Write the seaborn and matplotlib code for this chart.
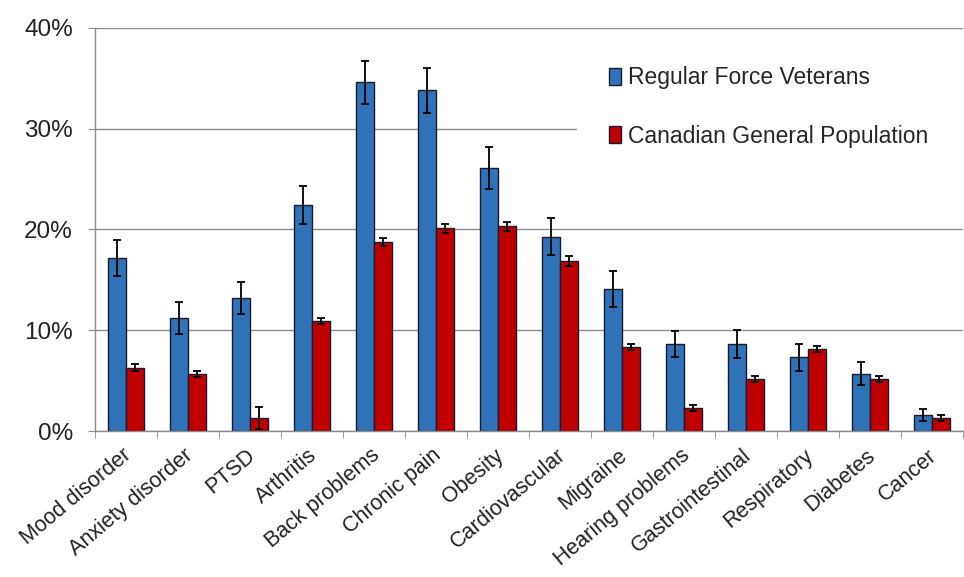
import pandas as pd
import seaborn as sns
import matplotlib.pyplot as plt
from matplotlib.ticker import FuncFormatter, FixedLocator
from matplotlib.transforms import ScaledTranslation

# Data (percent)
conditions = ['Mood disorder', 'Anxiety disorder', 'PTSD', 'Arthritis', 'Back problems',
              'Chronic pain', 'Obesity', 'Cardiovascular', 'Migraine', 'Hearing problems',
              'Gastrointestinal', 'Respiratory', 'Diabetes', 'Cancer']
veterans = [17.2, 11.2, 13.2, 22.4, 34.6, 33.8, 26.1, 19.3, 14.1, 8.6, 8.6, 7.3, 5.7, 1.6]
veterans_err = [1.8, 1.6, 1.6, 1.9, 2.1, 2.2, 2.1, 1.8, 1.8, 1.3, 1.4, 1.3, 1.1, 0.6]
general = [6.3, 5.7, 1.3, 10.9, 18.8, 20.1, 20.3, 16.9, 8.3, 2.3, 5.2, 8.1, 5.2, 1.3]
general_err = [0.35, 0.3, 1.1, 0.3, 0.4, 0.4, 0.4, 0.5, 0.3, 0.3, 0.3, 0.3, 0.3, 0.3]
series = ['Regular Force Veterans', 'Canadian General Population']

df = pd.DataFrame({
    'condition': conditions * 2,
    'group': [series[0]] * len(conditions) + [series[1]] * len(conditions),
    'value': veterans + general,
})

sns.set_style('white')
plt.rcParams['font.family'] = ['Liberation Sans', 'DejaVu Sans']

fig = plt.figure(figsize=(9.64, 5.77), dpi=100)
ax = fig.add_axes([95 / 964, 1 - 431 / 577, 868 / 964, 403 / 577])

palette = {series[0]: '#2F72B8', series[1]: '#C00000'}
sns.barplot(data=df, x='condition', y='value', hue='group', palette=palette,
            width=0.57, errorbar=None, edgecolor='#1a1a2e', linewidth=1.0,
            saturation=1, ax=ax)

# error bars on top of each bar
for cont, errs in zip(ax.containers, [veterans_err, general_err]):
    xs = [p.get_x() + p.get_width() / 2 for p in cont]
    ys = [p.get_height() for p in cont]
    ax.errorbar(xs, ys, yerr=errs, fmt='none', ecolor='black', elinewidth=1.3,
                capsize=3, capthick=1.3, zorder=5)

ax.set_ylim(0, 40)
ax.set_xlim(-0.5, len(conditions) - 0.5)
ax.set_yticks([0, 10, 20, 30, 40])
ax.yaxis.set_major_formatter(FuncFormatter(lambda v, _: f'{v:.0f}%'))
ax.yaxis.grid(True, color='#8c8c8c', linewidth=1.0)
ax.set_axisbelow(True)
ax.set_xlabel('')
ax.set_ylabel('')

for s in ['top', 'right']:
    ax.spines[s].set_visible(False)
for s in ['left', 'bottom']:
    ax.spines[s].set_color('#8c8c8c')
    ax.spines[s].set_linewidth(1.0)

# ticks between categories on x, outward on y
ax.xaxis.set_minor_locator(FixedLocator([i - 0.5 for i in range(len(conditions) + 1)]))
ax.tick_params(axis='x', which='minor', length=5, color='#8c8c8c', direction='out', bottom=True)
ax.tick_params(axis='x', which='major', length=0, pad=10)
ax.tick_params(axis='y', length=5, color='#8c8c8c', direction='out', left=True,
               labelsize=17.5, labelcolor='#222222', pad=11)
ax.set_xticks(range(len(conditions)))
ax.set_xticklabels(conditions, rotation=40, ha='right', rotation_mode='anchor',
                   fontsize=15.5, color='#222222')
offset = ScaledTranslation(-4 / 100, 0, fig.dpi_scale_trans)
for lbl in ax.get_xticklabels():
    lbl.set_transform(lbl.get_transform() + offset)

leg = ax.legend(loc='upper left', bbox_to_anchor=(0.555, 0.70, 0.445, 0.285), mode='expand',
                frameon=True, fontsize=16.5, handlelength=0.55, handleheight=0.75,
                handletextpad=0.3, labelspacing=1.55, borderpad=1.4, borderaxespad=0)
leg.get_frame().set_edgecolor('white')
leg.get_frame().set_facecolor('white')
leg.get_frame().set_alpha(1)
leg.get_frame().set_boxstyle('square', pad=0)
for h in leg.legend_handles:
    h.set_edgecolor('#1a1a2e')
    h.set_linewidth(1.0)

fig.savefig('out.png', dpi=100)
